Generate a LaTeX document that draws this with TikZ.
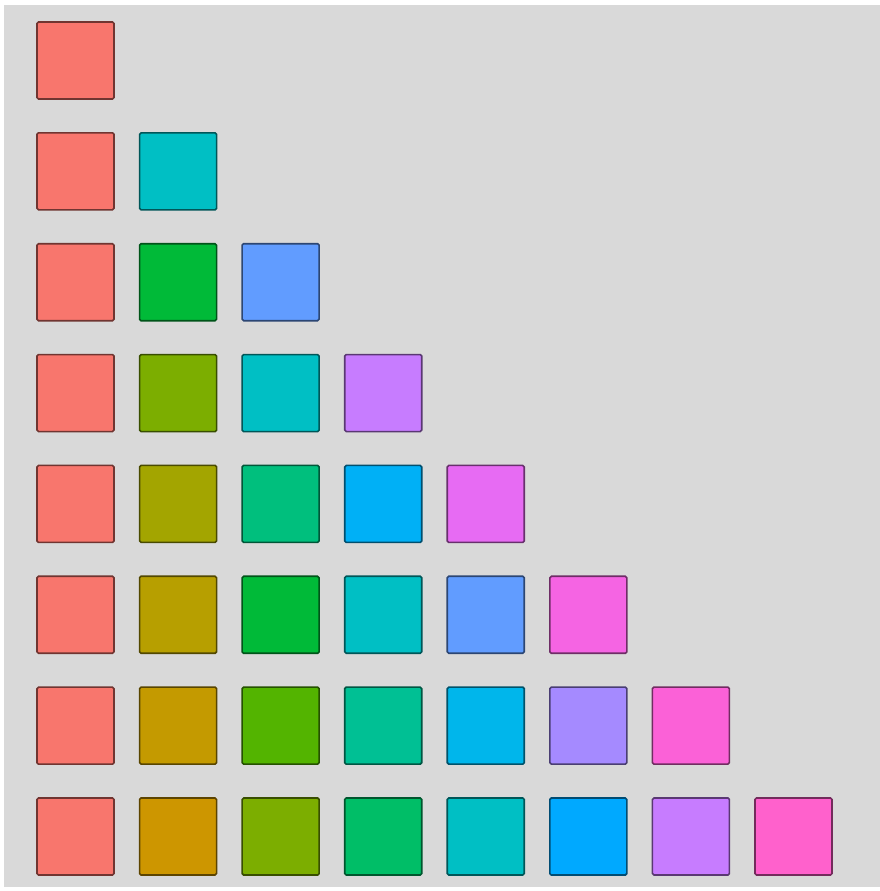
\documentclass[tikz,border=0pt]{standalone}
\usepackage{tikz}

% ggplot-style hue colours
\definecolor{bggray}{HTML}{D9D9D9}
\definecolor{hueF8766D}{HTML}{F8766D}
\definecolor{hue00BFC4}{HTML}{00BFC4}
\definecolor{hue00BA38}{HTML}{00BA38}
\definecolor{hue619CFF}{HTML}{619CFF}
\definecolor{hue7CAE00}{HTML}{7CAE00}
\definecolor{hueC77CFF}{HTML}{C77CFF}
\definecolor{hueA3A500}{HTML}{A3A500}
\definecolor{hue00BF7D}{HTML}{00BF7D}
\definecolor{hue00B0F6}{HTML}{00B0F6}
\definecolor{hueE76BF3}{HTML}{E76BF3}
\definecolor{hueB79F00}{HTML}{B79F00}
\definecolor{hueF564E3}{HTML}{F564E3}
\definecolor{hueC49A00}{HTML}{C49A00}
\definecolor{hue53B400}{HTML}{53B400}
\definecolor{hue00C094}{HTML}{00C094}
\definecolor{hue00B6EB}{HTML}{00B6EB}
\definecolor{hueA58AFF}{HTML}{A58AFF}
\definecolor{hueFB61D7}{HTML}{FB61D7}
\definecolor{hueCD9600}{HTML}{CD9600}
\definecolor{hue00BE67}{HTML}{00BE67}
\definecolor{hue00A9FF}{HTML}{00A9FF}
\definecolor{hueFF61CC}{HTML}{FF61CC}

\tikzset{
  swatch/.style={fill=#1, draw=#1!45!black, line width=1.6pt, rounded corners=1.5pt}
}

\begin{document}
\begin{tikzpicture}[x=1pt,y=1pt]
  \useasboundingbox (0,0) rectangle (880,891);
  \fill[white] (0,0) rectangle (880,891);
  \fill[bggray] (4,4) rectangle (880,886);
  % one row per palette size
  \foreach \r/\lst in {
      0/{F8766D},
      1/{F8766D,00BFC4},
      2/{F8766D,00BA38,619CFF},
      3/{F8766D,7CAE00,00BFC4,C77CFF},
      4/{F8766D,A3A500,00BF7D,00B0F6,E76BF3},
      5/{F8766D,B79F00,00BA38,00BFC4,619CFF,F564E3},
      6/{F8766D,C49A00,53B400,00C094,00B6EB,A58AFF,FB61D7},
      7/{F8766D,CD9600,7CAE00,00BE67,00BFC4,00A9FF,C77CFF,FF61CC}}{
    \foreach \c [count=\i from 0] in \lst {
      \draw[swatch=hue\c] ({37+102.57*\i},{891-22-110.86*\r}) rectangle ++(77,-77);
    }
  }
\end{tikzpicture}
\end{document}
